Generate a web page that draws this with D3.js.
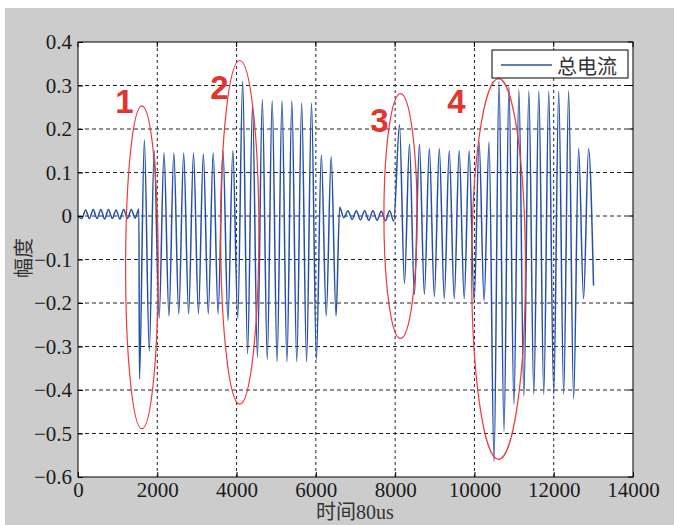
<!DOCTYPE html>
<html>
<head>
<meta charset="utf-8">
<script src="https://cdn.jsdelivr.net/npm/d3@7"></script>
<style>
  body { margin: 0; background: #fff; }
  svg { display: block; }
</style>
</head>
<body>
<div id="chart"></div>
<script>
var xTicks = [0, 2000, 4000, 6000, 8000, 10000, 12000, 14000];
var yTicks = [-0.6, -0.5, -0.4, -0.3, -0.2, -0.1, 0, 0.1, 0.2, 0.3, 0.4];

// signal read off the picture as turning points (alternating low / high)
// each piece: time of first turning point, spacing, values
var ripple1Start = 0, ripple1Step = 96;
var ripple1 = [0.0, -0.006, 0.014, -0.006, 0.015, -0.006, 0.015, -0.007, 0.015,
  -0.006, 0.014, -0.007, 0.015, -0.006, 0.015, -0.005, 0.016];

var burst1Start = 1550, burst1Step = 124;
var burst1 = [-0.375, 0.175, -0.31, 0.15, -0.235, 0.145, -0.23, 0.145, -0.225, 0.145,
  -0.225, 0.145, -0.225, 0.143, -0.225, 0.145, -0.225, 0.15, -0.24, 0.15,
  -0.235, 0.31, -0.317, 0.255, -0.325, 0.268, -0.33, 0.265, -0.335, 0.265,
  -0.335, 0.265, -0.335, 0.26, -0.335, 0.26, -0.33, 0.14, -0.23, 0.136, -0.23];

var ripple2Start = 6600, ripple2Step = 105;
var ripple2 = [0.02, -0.004, 0.012, -0.008, 0.012, -0.009, 0.012, -0.01, 0.012,
  -0.01, 0.011, -0.011, 0.012, -0.012];

var burst2Start = 8110, burst2Step = 125.5;
var burst2 = [0.21, -0.155, 0.165, -0.18, 0.165, -0.18, 0.155, -0.185, 0.155, -0.19,
  0.15, -0.19, 0.15, -0.19, 0.15, -0.195, 0.17, -0.195, 0.17, -0.565,
  0.31, -0.495, 0.298, -0.433, 0.29, -0.414, 0.288, -0.41, 0.288, -0.41,
  0.287, -0.41, 0.287, -0.41, 0.288, -0.42, 0.155, -0.19, 0.155, -0.16];

var marks = ["1", "2", "3", "4"];
var markCx = [1612, 4080, 8135, 10608];
var markCy = [-0.118, -0.0375, 0, -0.122];
var markRx = [411, 482, 418, 679];
var markRy = [0.371, 0.395, 0.2815, 0.4376];
var markLabelX = [1173, 3570, 7606, 9548];
var markLabelY = [0.264, 0.296, 0.219, 0.264];

var seriesName = "总电流";
var xTitle = "时间80us";
var yTitle = "幅度";

var svgWidth = 674, svgHeight = 525;
var margin = { top: 42, right: 41, bottom: 48, left: 78 };
var width = svgWidth - margin.left - margin.right;
var height = svgHeight - margin.top - margin.bottom;

var svg = d3.select("#chart").append("svg")
  .attr("width", svgWidth)
  .attr("height", svgHeight);

// matlab style grey figure
svg.append("rect").attr("width", svgWidth).attr("height", svgHeight).attr("fill", "#fff");
svg.append("rect").attr("x", 5).attr("y", 8)
  .attr("width", svgWidth - 5).attr("height", svgHeight - 8)
  .attr("fill", "#cccccc");

var g = svg.append("g")
  .attr("transform", "translate(" + margin.left + "," + margin.top + ")");

var x = d3.scaleLinear().domain([0, 14000]).range([0, width]);
var y = d3.scaleLinear().domain([-0.6, 0.4]).range([height, 0]);

g.append("rect").attr("width", width).attr("height", height).attr("fill", "#fff");

// grid
g.append("g").selectAll("line")
  .data(xTicks.slice(1, -1))
  .enter().append("line")
  .attr("x1", d => x(d)).attr("x2", d => x(d))
  .attr("y1", 0).attr("y2", height)
  .attr("stroke", "#222").attr("stroke-width", 1)
  .attr("stroke-dasharray", "3,3");

g.append("g").selectAll("line")
  .data(yTicks.slice(1, -1))
  .enter().append("line")
  .attr("x1", 0).attr("x2", width)
  .attr("y1", d => y(d)).attr("y2", d => y(d))
  .attr("stroke", "#222").attr("stroke-width", 1)
  .attr("stroke-dasharray", "4,3");

// build the signal
var points = [];
function addPiece(start, step, vals) {
  vals.forEach(function(v, i) {
    points.push({ t: start + i * step, v: v });
  });
}
addPiece(ripple1Start, ripple1Step, ripple1);
addPiece(burst1Start, burst1Step, burst1);
addPiece(ripple2Start, ripple2Step, ripple2);
addPiece(burst2Start, burst2Step, burst2);

var line = d3.line()
  .x(d => x(d.t))
  .y(d => y(d.v))
  .curve(d3.curveMonotoneX);

g.append("path")
  .datum(points)
  .attr("d", line)
  .attr("fill", "none")
  .attr("stroke", "#2650a8")
  .attr("stroke-width", 1.5);

// axes
var tickFont = "'Liberation Serif', 'Times New Roman', serif";

var xAxis = g.append("g")
  .attr("transform", "translate(0," + height + ")")
  .call(d3.axisBottom(x).tickValues(xTicks).tickFormat(d3.format("d"))
    .tickSize(-5).tickPadding(5));
var yAxis = g.append("g")
  .call(d3.axisLeft(y).tickValues(yTicks)
    .tickFormat(d => d === 0 ? "0" : d3.format(".1f")(d))
    .tickSize(-5).tickPadding(6));

[xAxis, yAxis].forEach(function(a) {
  a.select(".domain").remove();
  a.selectAll("line").attr("stroke", "#000");
  a.selectAll("text")
    .attr("fill", "#1a1a1a")
    .style("font-family", tickFont)
    .style("font-size", "21px");
});

// ticks on top and right too
g.append("g").selectAll("line").data(xTicks).enter().append("line")
  .attr("x1", d => x(d)).attr("x2", d => x(d))
  .attr("y1", 0).attr("y2", 5).attr("stroke", "#000");
g.append("g").selectAll("line").data(yTicks).enter().append("line")
  .attr("x1", width - 5).attr("x2", width)
  .attr("y1", d => y(d)).attr("y2", d => y(d)).attr("stroke", "#000");

g.append("rect").attr("width", width).attr("height", height)
  .attr("fill", "none").attr("stroke", "#000").attr("stroke-width", 1);

// red annotations
marks.forEach(function(m, i) {
  g.append("ellipse")
    .attr("cx", x(markCx[i]))
    .attr("cy", y(markCy[i]))
    .attr("rx", x(markCx[i] + markRx[i]) - x(markCx[i]))
    .attr("ry", y(markCy[i]) - y(markCy[i] + markRy[i]))
    .attr("fill", "none")
    .attr("stroke", "#ee3a3a")
    .attr("stroke-width", 1.2);
  g.append("text")
    .attr("x", x(markLabelX[i]))
    .attr("y", y(markLabelY[i]))
    .attr("text-anchor", "middle")
    .attr("dominant-baseline", "central")
    .attr("fill", "#e2352e")
    .style("font-family", "'Liberation Sans', Arial, sans-serif")
    .style("font-weight", "bold")
    .style("font-size", "33px")
    .text(m);
});

// legend
var legend = g.append("g").attr("transform", "translate(" + (width - 141) + ",8)");
legend.append("rect")
  .attr("width", 136).attr("height", 28)
  .attr("fill", "#fff").attr("stroke", "#000").attr("stroke-width", 1);
legend.append("line")
  .attr("x1", 9).attr("x2", 60).attr("y1", 15).attr("y2", 15)
  .attr("stroke", "#2650a8").attr("stroke-width", 1.5);
legend.append("text")
  .attr("x", 65).attr("y", 15)
  .attr("dominant-baseline", "central")
  .attr("fill", "#333")
  .style("font-family", "'Noto Sans CJK SC', sans-serif")
  .style("font-size", "20px")
  .text(seriesName);

// axis titles
svg.append("text")
  .attr("x", 355).attr("y", 519)
  .attr("text-anchor", "middle")
  .attr("fill", "#333")
  .style("font-family", "'Liberation Serif', 'Noto Sans CJK SC', serif")
  .style("font-size", "20px")
  .text(xTitle);

svg.append("text")
  .attr("transform", "translate(22,258) rotate(-90)")
  .attr("text-anchor", "middle")
  .attr("dominant-baseline", "central")
  .attr("fill", "#333")
  .style("font-family", "'Noto Sans CJK SC', serif")
  .style("font-size", "20px")
  .text(yTitle);
</script>
</body>
</html>
